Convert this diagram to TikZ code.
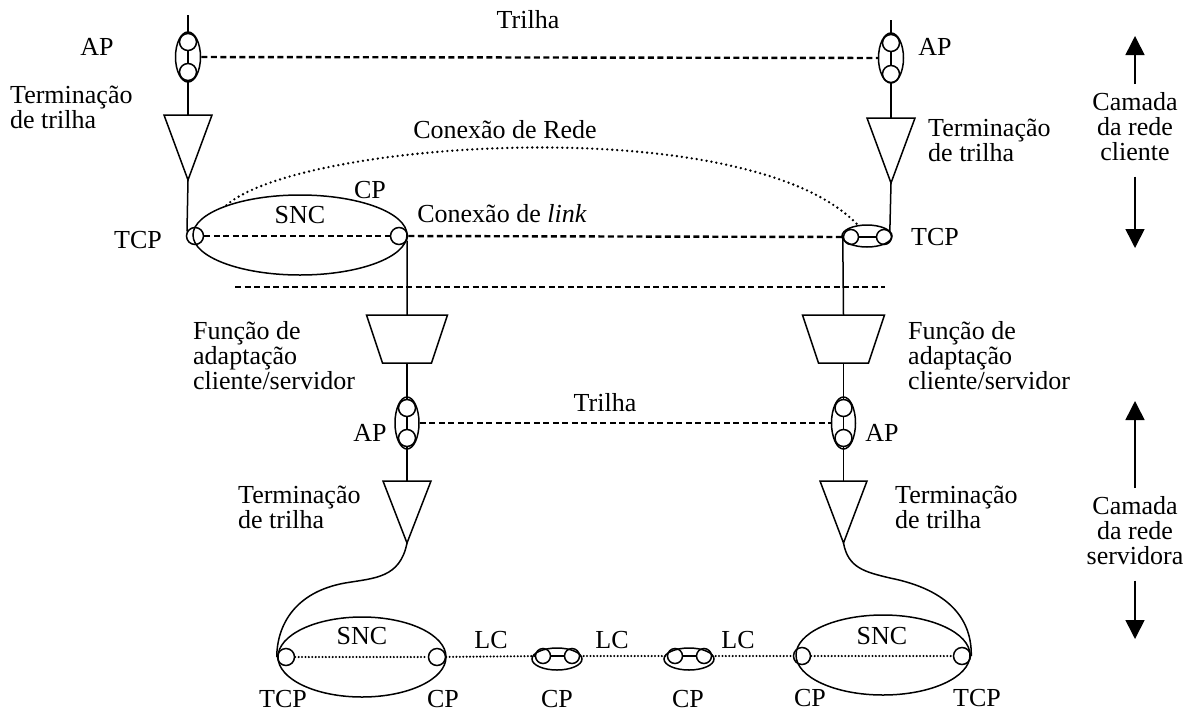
\documentclass[tikz,border=0pt]{standalone}
\usepackage{fontspec}
\setmainfont{Liberation Serif}
\usetikzlibrary{shapes.geometric,arrows.meta}
\begin{document}
\begin{tikzpicture}[x=1pt,y=-1pt,
  ln/.style={line width=1.5pt},
  dsh/.style={line width=2.4pt, dash pattern=on 6pt off 3.5pt},
  dtt/.style={line width=2.6pt, line cap=round, dash pattern=on 0pt off 5pt},
  dtts/.style={line width=2.3pt, line cap=round, dash pattern=on 0pt off 3.4pt},
  pc/.style={circle, draw, line width=1.5pt, minimum size=17pt, inner sep=0pt},
  spc/.style={pc, minimum size=15pt},
  el/.style={ellipse, draw, line width=1.5pt, inner sep=0pt},
  txt/.style={font=\fontsize{26}{25}\selectfont, inner sep=0pt},
  ml/.style={txt, align=left, anchor=north west},
  arr/.style={line width=1.6pt, -{Triangle[width=19pt,length=19pt]}}]
\useasboundingbox (0,0) rectangle (1186,713);

% ---------- top access points ----------
\node[el, minimum width=25pt, minimum height=50pt] (apTL) at (188,57) {};
\node[pc] (apTLa) at (188,42) {};
\node[pc] (apTLb) at (188,72) {};
\draw[ln] (apTLa) -- (apTLb);
\coordinate (topL) at (188,15);
\draw[ln] (topL) -- (apTLa);

\node[el, minimum width=25pt, minimum height=50pt] (apTR) at (891,58) {};
\node[pc] (apTRa) at (891,43) {};
\node[pc] (apTRb) at (891,74) {};
\draw[ln] (apTRa) -- (apTRb);
\coordinate (topR) at (891,20);
\draw[ln] (topR) -- (apTRa);

\draw[dsh] (apTL) -- (apTR);

% ---------- top trail terminations ----------
\coordinate (trTL) at (188,115);
\coordinate (trTLt) at (188,180);
\draw[ln] (apTLb) -- (trTL);
\draw[ln] ([xshift=-24pt]trTL) -- ([xshift=24pt]trTL) -- (trTLt) -- cycle;

\coordinate (trTR) at (891,118);
\coordinate (trTRt) at (891,183);
\draw[ln] (apTRb) -- (trTR);
\draw[ln] ([xshift=-24pt]trTR) -- ([xshift=24pt]trTR) -- (trTRt) -- cycle;

% ---------- client layer SNC ----------
\node[el, minimum width=214pt, minimum height=80pt] (sncT) at (300,235) {};
\node[pc] (tcpL) at (195,236) {};
\node[pc] (cpT) at (399,236) {};
\draw[ln] (trTLt) -- (tcpL.150);

\node[el, minimum width=50pt, minimum height=22pt] (tcpR) at (867,236) {};
\node[spc] (tcpRa) at (851,237) {};
\node[spc] (tcpRb) at (884,237) {};
\draw[ln] (tcpRa) -- (tcpRb);
\draw[ln] (trTRt) -- (tcpRb.45);

\draw[dsh] (tcpL) -- (cpT);
\draw[dsh] (cpT) -- (tcpRa);
\draw[dtt] (sncT.158) .. controls (300,140) and (750,110) .. (tcpR.130);

% ---------- layer separator ----------
\coordinate (sepA) at (235,287);
\coordinate (sepB) at (885,287);
\draw[dsh] (sepA) -- (sepB);

% ---------- adaptation functions ----------
\coordinate (tzL) at (407,315);
\coordinate (tzLb) at (407,363);
\draw[ln] (cpT.-30) -- (tzL);
\draw[ln] ([xshift=-40.5pt]tzL) -- ([xshift=40.5pt]tzL) -- ([xshift=24.5pt]tzLb) -- ([xshift=-24.5pt]tzLb) -- cycle;

\coordinate (tzR) at (843.5,315);
\coordinate (tzRb) at (843.5,363);
\draw[ln] (tcpRa.west) -- (tzR);
\draw[ln] ([xshift=-41pt]tzR) -- ([xshift=41pt]tzR) -- ([xshift=25pt]tzRb) -- ([xshift=-25pt]tzRb) -- cycle;

% ---------- bottom access points ----------
\node[el, minimum width=24pt, minimum height=52pt] (apBL) at (407,423) {};
\node[pc] (apBLa) at (407,408) {};
\node[pc] (apBLb) at (407,438) {};
\draw[ln] (apBLa) -- (apBLb);
\draw[ln] (tzLb) -- (apBLa);

\node[el, minimum width=24pt, minimum height=52pt] (apBR) at (843.5,423) {};
\node[pc] (apBRa) at (843.5,408) {};
\node[pc] (apBRb) at (843.5,438) {};
\draw[ln] (apBRa) -- (apBRb);
\draw[ln] (tzRb) -- (apBRa);

\draw[dsh] (apBL) -- (apBR);

% ---------- bottom trail terminations ----------
\coordinate (trBL) at (407,481);
\coordinate (trBLt) at (407,543);
\draw[ln] (apBLb) -- (trBL);
\draw[ln] ([xshift=-24pt]trBL) -- ([xshift=24pt]trBL) -- (trBLt) -- cycle;

\coordinate (trBR) at (843.5,481);
\coordinate (trBRt) at (843.5,543);
\draw[ln] (apBRb) -- (trBR);
\draw[ln] ([xshift=-23.5pt]trBR) -- ([xshift=23.5pt]trBR) -- (trBRt) -- cycle;

% ---------- server layer ----------
\node[el, minimum width=168pt, minimum height=80pt] (sncBL) at (362,657) {};
\node[el, minimum width=174pt, minimum height=80pt] (sncBR) at (883,655) {};
\node[pc] (tcpBL) at (286,657) {};
\node[pc] (cpBL) at (437,657) {};
\node[el, minimum width=50pt, minimum height=22pt] (p1) at (557,659) {};
\node[spc] (p1a) at (543,656) {};
\node[spc] (p1b) at (572,656) {};
\draw[ln] (p1a) -- (p1b);
\node[el, minimum width=50pt, minimum height=22pt] (p2) at (689,659) {};
\node[spc] (p2a) at (675,656) {};
\node[spc] (p2b) at (704,656) {};
\draw[ln] (p2a) -- (p2b);
\node[pc] (cpBR) at (802,656) {};
\node[pc] (tcpBR) at (962,656) {};

\draw[dtts] (tcpBL) -- (cpBL);
\draw[dtts] (cpBL) -- (p1a);
\draw[dtts] (p1b) -- (p2a);
\draw[dtts] (p2b) -- (cpBR);
\draw[dtts] (cpBR) -- (tcpBR);

\draw[ln] (trBLt) .. controls (400,578) and (375,578) .. (345,583) .. controls (295,592) and (277,625) .. (tcpBL.west);
\draw[ln] (trBRt) .. controls (848,568) and (865,572) .. (890,578) .. controls (950,590) and (972,620) .. (tcpBR.east);

% ---------- labels ----------
\node[txt] (lTrT) at (528,20) {Trilha};
\node[txt] (lAPTL) at (97,47) {AP};
\node[txt] (lAPTR) at (935,47) {AP};
\node[ml] (lTermTL) at (10,86) {Terminação\\de trilha};
\node[ml] (lTermTR) at (928,119) {Terminação\\de trilha};
\node[txt] (lConRede) at (505,130) {Conexão de Rede};
\node[txt] (lCPT) at (370,190) {CP};
\node[txt] (lSNCT) at (300,215) {SNC};
\node[txt] (lTCPL) at (138,240) {TCP};
\node[txt] (lLink) at (502,214) {Conexão de \textit{link}};
\node[txt] (lTCPR) at (935,237) {TCP};
\node[ml] (lFunL) at (193,321) {Função de\\adaptação\\cliente/servidor};
\node[ml] (lFunR) at (908,321) {Função de\\adaptação\\cliente/servidor};
\node[txt] (lTrB) at (605,403) {Trilha};
\node[txt] (lAPBL) at (370,433) {AP};
\node[txt] (lAPBR) at (882,433) {AP};
\node[ml] (lTermBL) at (238,486) {Terminação\\de trilha};
\node[ml] (lTermBR) at (895,486) {Terminação\\de trilha};

\node[txt] (lSNCBL) at (362,636) {SNC};
\node[txt] (lLC1) at (491,640) {LC};
\node[txt] (lLC2) at (612,640) {LC};
\node[txt] (lLC3) at (738,640) {LC};
\node[txt] (lSNCBR) at (882,636) {SNC};
\node[txt] (lTCPBL) at (283,699) {TCP};
\node[txt] (lCPBL) at (443,699) {CP};
\node[txt] (lCP1) at (557,699) {CP};
\node[txt] (lCP2) at (688,699) {CP};
\node[txt] (lCPBR) at (810,698) {CP};
\node[txt] (lTCPBR) at (977,698) {TCP};

% ---------- layer arrows ----------
\node[txt, align=center, anchor=north] (lCamC) at (1135,92) {Camada\\da rede\\cliente};
\coordinate (aC1) at (1135,36);
\coordinate (aC2) at (1135,248);
\draw[arr, shorten <=8pt] (lCamC.north) -- (aC1);
\draw[arr, shorten <=16pt] (lCamC.south) -- (aC2);

\node[txt, align=center, anchor=north] (lCamS) at (1135,496) {Camada\\da rede\\servidora};
\coordinate (aS1) at (1135,401);
\coordinate (aS2) at (1135,639);
\draw[arr, shorten <=8pt] (lCamS.north) -- (aS1);
\draw[arr, shorten <=16pt] (lCamS.south) -- (aS2);
\end{tikzpicture}
\end{document}
